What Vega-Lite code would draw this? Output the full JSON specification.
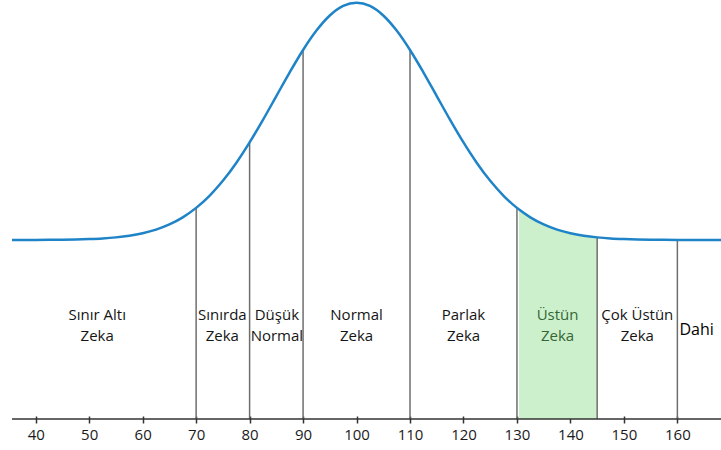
{
  "$schema": "https://vega.github.io/schema/vega-lite/v6.json",
  "width": 721,
  "height": 419,
  "autosize": {"type": "none"},
  "padding": {"left": 0, "top": 0, "right": 0, "bottom": 31},
  "background": "white",
  "config": {"view": {"stroke": null}},
  "datasets": {
    "curve": [
      {"iq": 35.57, "f": 0.0001},
      {"iq": 40, "f": 0.0004},
      {"iq": 42.5, "f": 0.0007},
      {"iq": 45, "f": 0.0012},
      {"iq": 47.5, "f": 0.0022},
      {"iq": 50, "f": 0.0039},
      {"iq": 52.5, "f": 0.0066},
      {"iq": 55, "f": 0.0111},
      {"iq": 57.5, "f": 0.0181},
      {"iq": 60, "f": 0.0286},
      {"iq": 62.5, "f": 0.0439},
      {"iq": 65, "f": 0.0657},
      {"iq": 67.5, "f": 0.0956},
      {"iq": 70, "f": 0.1353},
      {"iq": 72.5, "f": 0.1863},
      {"iq": 75, "f": 0.2494},
      {"iq": 77.5, "f": 0.3247},
      {"iq": 80, "f": 0.4111},
      {"iq": 82.5, "f": 0.5063},
      {"iq": 85, "f": 0.6065},
      {"iq": 87.5, "f": 0.7066},
      {"iq": 90, "f": 0.8007},
      {"iq": 92.5, "f": 0.8825},
      {"iq": 95, "f": 0.946},
      {"iq": 97.5, "f": 0.9862},
      {"iq": 100, "f": 1.0},
      {"iq": 102.5, "f": 0.9862},
      {"iq": 105, "f": 0.946},
      {"iq": 107.5, "f": 0.8825},
      {"iq": 110, "f": 0.8007},
      {"iq": 112.5, "f": 0.7066},
      {"iq": 115, "f": 0.6065},
      {"iq": 117.5, "f": 0.5063},
      {"iq": 120, "f": 0.4111},
      {"iq": 122.5, "f": 0.3247},
      {"iq": 125, "f": 0.2494},
      {"iq": 127.5, "f": 0.1863},
      {"iq": 130, "f": 0.1353},
      {"iq": 130.4, "f": 0.1282},
      {"iq": 132.5, "f": 0.0956},
      {"iq": 135, "f": 0.0657},
      {"iq": 137.5, "f": 0.0439},
      {"iq": 140, "f": 0.0286},
      {"iq": 142.5, "f": 0.0181},
      {"iq": 145, "f": 0.0111},
      {"iq": 147.5, "f": 0.0066},
      {"iq": 150, "f": 0.0039},
      {"iq": 152.5, "f": 0.0022},
      {"iq": 155, "f": 0.0012},
      {"iq": 157.5, "f": 0.0007},
      {"iq": 160, "f": 0.0004},
      {"iq": 162.5, "f": 0.0002},
      {"iq": 165, "f": 0.0001},
      {"iq": 168.16, "f": 0.0}
    ],
    "cuts": [
      {"iq": 70, "f": 0.1353},
      {"iq": 80, "f": 0.4111},
      {"iq": 90, "f": 0.8007},
      {"iq": 110, "f": 0.8007},
      {"iq": 130, "f": 0.1353},
      {"iq": 145, "f": 0.0111},
      {"iq": 160, "f": 0.0004}
    ],
    "labels": [
      {"iq": 51.5, "name": "Sınır Altı", "text": ["Sınır Altı", "Zeka"]},
      {"iq": 74.9, "name": "Sınırda", "text": ["Sınırda", "Zeka"]},
      {"iq": 85.1, "name": "Düşük", "text": ["Düşük", "Normal"]},
      {"iq": 100, "name": "Normal", "text": ["Normal", "Zeka"]},
      {"iq": 120, "name": "Parlak", "text": ["Parlak", "Zeka"]},
      {"iq": 137.6, "name": "Üstün", "text": ["Üstün", "Zeka"]},
      {"iq": 152.5, "name": "Çok Üstün", "text": ["Çok Üstün", "Zeka"]}
    ],
    "dahi": [
      {"iq": 163.6, "name": "Dahi", "text": "Dahi"}
    ]
  },
  "layer": [
    {
      "data": {"name": "curve"},
      "transform": [{"filter": "datum.iq >= 130.4 && datum.iq <= 145"}],
      "mark": {"type": "area", "color": "#ccf0cc", "interpolate": "monotone"},
      "encoding": {
        "x": {
          "field": "iq",
          "type": "quantitative",
          "scale": {"domain": [33.32, 168.16], "nice": false, "zero": false},
          "axis": {
            "title": null,
            "values": [40, 45, 50, 55, 60, 65, 70, 75, 80, 85, 90, 95, 100, 105, 110, 115, 120, 125, 130, 135, 140, 145, 150, 155, 160, 165],
            "labelExpr": "datum.value % 10 === 0 ? datum.label : ''",
            "domain": false,
            "grid": false,
            "offset": -3,
            "tickSize": {"condition": {"test": "datum.value % 10 === 0", "value": 7}, "value": 4.5},
            "tickColor": "#333333",
            "tickWidth": 1.5,
            "labelFont": "Open Sans",
            "labelFontSize": 15,
            "labelColor": "#1a1a1a",
            "labelPadding": 4,
            "labelFlush": false,
            "labelOverlap": false
          }
        },
        "y": {
          "field": "f",
          "type": "quantitative",
          "scale": {"domain": [-0.7543, 1.0114], "nice": false, "zero": false},
          "axis": null
        },
        "y2": {"datum": -0.7543}
      }
    },
    {
      "data": {"name": "cuts"},
      "mark": {"type": "rule", "color": "#6e6e6e", "strokeWidth": 1.5},
      "encoding": {
        "x": {"field": "iq", "type": "quantitative"},
        "y": {"field": "f", "type": "quantitative"},
        "y2": {"datum": -0.7543}
      }
    },
    {
      "data": {"name": "curve"},
      "mark": {"type": "line", "color": "#1f83c8", "strokeWidth": 2.5, "interpolate": "monotone"},
      "encoding": {
        "x": {"field": "iq", "type": "quantitative"},
        "y": {"field": "f", "type": "quantitative"}
      }
    },
    {
      "data": {"values": [{}]},
      "mark": {"type": "rule", "color": "#333333", "strokeWidth": 1.5},
      "encoding": {
        "x": {"datum": 35.57},
        "x2": {"datum": 168.16},
        "y": {"datum": -0.7543}
      }
    },
    {
      "data": {"name": "labels"},
      "mark": {"type": "text", "font": "Open Sans", "fontSize": 15, "lineHeight": 21, "baseline": "middle", "align": "center"},
      "encoding": {
        "x": {"field": "iq", "type": "quantitative"},
        "y": {"datum": -0.314},
        "text": {"field": "text"},
        "color": {"condition": {"test": "datum.name === 'Üstün'", "value": "#356635"}, "value": "#151515"}
      }
    },
    {
      "data": {"name": "dahi"},
      "mark": {"type": "text", "font": "Open Sans", "fontSize": 16, "baseline": "middle", "align": "center", "color": "#000000"},
      "encoding": {
        "x": {"field": "iq", "type": "quantitative"},
        "y": {"datum": -0.379},
        "text": {"field": "text"}
      }
    }
  ]
}
